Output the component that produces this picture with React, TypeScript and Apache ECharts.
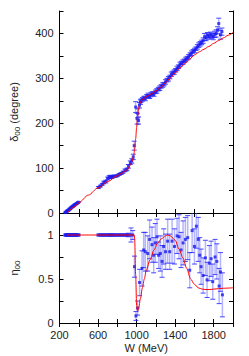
import React, { useEffect, useRef } from "react";
import * as echarts from "echarts";

// Phase shift delta_00 (degree): [W (MeV), value, error]
const deltaPoints: number[][] = [
  [262, 1, 1], [272, 3, 1], [282, 5, 1], [292, 6, 1], [302, 8, 1], [312, 10, 1], [322, 12, 1],
  [332, 14, 1], [342, 15, 1], [352, 17, 1], [362, 19, 1], [372, 20, 1], [384, 22, 1], [396, 24, 1],
  [605, 57, 2], [625, 60, 2], [645, 64, 2], [660, 68, 3], [680, 70, 3], [700, 77, 3], [715, 80, 3],
  [730, 81, 3], [745, 79, 2], [760, 82, 2], [780, 82, 2], [800, 83, 2], [820, 86, 2], [840, 88, 2],
  [860, 91, 2], [880, 95, 3], [900, 97, 3], [915, 104, 4], [935, 112, 4], [950, 116, 5], [965, 125, 6],
  [975, 150, 10], [990, 236, 12], [1005, 210, 12], [1012, 222, 10], [1020, 206, 8], [1030, 240, 6],
  [1040, 247, 5], [1045, 250, 4], [1060, 253, 4], [1075, 256, 4], [1090, 255, 5], [1105, 260, 4],
  [1120, 262, 5], [1135, 259, 4], [1150, 264, 5], [1165, 266, 4], [1180, 265, 5], [1195, 270, 4],
  [1210, 272, 5], [1225, 276, 4], [1240, 278, 5], [1255, 282, 4], [1270, 285, 5], [1285, 287, 4],
  [1300, 292, 5], [1315, 296, 4], [1330, 299, 5], [1345, 303, 4], [1360, 309, 5], [1375, 312, 4],
  [1390, 314, 5], [1405, 318, 4], [1420, 322, 5], [1435, 326, 4], [1450, 331, 5], [1465, 334, 4],
  [1480, 336, 5], [1495, 339, 4], [1510, 342, 5], [1525, 345, 4], [1540, 348, 5], [1555, 353, 4],
  [1570, 356, 5], [1585, 360, 4], [1600, 362, 5], [1615, 366, 4], [1630, 370, 5], [1645, 374, 5],
  [1660, 377, 5], [1675, 380, 5], [1690, 384, 6], [1705, 392, 8], [1720, 390, 6], [1735, 396, 6],
  [1750, 393, 6], [1765, 397, 6], [1780, 395, 6], [1795, 393, 7], [1810, 398, 7], [1825, 400, 8],
  [1840, 407, 8], [1852, 422, 12], [1870, 397, 10], [1885, 404, 8],
];

// Inelasticity eta_00: [W (MeV), value, error]
const etaPoints: number[][] = [
  [262, 1, 0.01], [272, 1, 0.01], [282, 1, 0.01], [292, 1, 0.01], [302, 1, 0.01], [312, 1, 0.01],
  [322, 1, 0.01], [332, 1, 0.01], [342, 1, 0.01], [352, 1, 0.01], [362, 1, 0.01], [372, 1, 0.01],
  [384, 1, 0.01], [396, 1, 0.01],
  [605, 1, 0.01], [625, 1, 0.01], [645, 1, 0.01], [660, 1, 0.01], [680, 1, 0.01], [700, 1, 0.01],
  [715, 1, 0.01], [730, 1, 0.01], [745, 1, 0.01], [760, 1, 0.01], [780, 1, 0.01], [800, 1, 0.01],
  [820, 1, 0.01], [840, 1, 0.01], [860, 1, 0.01], [880, 1, 0.01], [900, 1, 0.01], [915, 1, 0.02],
  [942, 1.0, 0.08], [960, 1.0, 0.05], [978, 0.64, 0.12],
  [993, 0.08, 0.05], [1010, 0.17, 0.08], [1031, 0.46, 0.15], [1056, 0.62, 0.2], [1073, 0.83, 0.2],
  [1090, 0.81, 0.22], [1115, 0.79, 0.2], [1135, 0.95, 0.22], [1160, 0.89, 0.2], [1177, 0.77, 0.2],
  [1194, 0.91, 0.22], [1212, 0.98, 0.2], [1229, 0.77, 0.15], [1246, 0.79, 0.2], [1264, 0.7, 0.18],
  [1281, 0.87, 0.2], [1300, 0.81, 0.2], [1322, 0.93, 0.25], [1343, 0.81, 0.2], [1368, 0.93, 0.25],
  [1393, 0.87, 0.2], [1420, 0.99, 0.2], [1440, 0.98, 0.25], [1461, 0.83, 0.2], [1482, 0.91, 0.25],
  [1506, 0.95, 0.25], [1530, 0.97, 0.25], [1551, 0.6, 0.2], [1576, 1.05, 0.25], [1600, 0.87, 0.2],
  [1620, 1.1, 0.25], [1640, 0.95, 0.25], [1655, 0.77, 0.2], [1669, 0.64, 0.2], [1690, 0.54, 0.2],
  [1714, 0.74, 0.2], [1731, 0.49, 0.2], [1755, 0.68, 0.2], [1773, 0.73, 0.2], [1790, 0.47, 0.2],
  [1814, 0.75, 0.2], [1832, 0.7, 0.2], [1856, 0.42, 0.2], [1870, 0.58, 0.22], [1890, 0.32, 0.25],
];

// Fit curves: [W, value]
const deltaFit: number[][] = [
  [278, 0], [350, 13], [400, 23], [500, 40], [600, 56], [700, 70], [800, 83], [850, 89], [900, 96],
  [935, 106], [955, 116], [970, 128], [980, 142], [990, 165], [1000, 190], [1010, 214], [1020, 232],
  [1035, 245], [1055, 252], [1100, 259], [1150, 265], [1200, 272], [1250, 280], [1300, 290],
  [1350, 301], [1400, 312], [1450, 323], [1500, 333], [1550, 343], [1600, 352], [1650, 359],
  [1700, 365], [1750, 371], [1800, 378], [1850, 384], [1900, 390], [1950, 396], [2000, 402],
];

const etaFit: number[][] = [
  [278, 1], [600, 1], [975, 1], [980, 0.95], [990, 0.55], [1000, 0.2], [1010, 0.13], [1020, 0.16],
  [1040, 0.28], [1060, 0.4], [1080, 0.5], [1100, 0.6], [1140, 0.72], [1180, 0.83], [1220, 0.91],
  [1260, 0.96], [1300, 0.99], [1320, 1.0], [1350, 0.99], [1400, 0.94], [1440, 0.84], [1480, 0.74],
  [1520, 0.62], [1560, 0.5], [1600, 0.44], [1640, 0.4], [1680, 0.385], [1720, 0.38], [1760, 0.38],
  [1800, 0.385], [1850, 0.39], [1900, 0.395], [2000, 0.4],
];

const FONT = "Liberation Sans, Arial, sans-serif";
const TXT = "#222";
const BAR = "rgba(90,90,255,0.45)";
const CAP = "rgba(40,40,255,0.85)";
const PT = "#1a1aee";

function errRender(params: any, api: any) {
  const x = api.value(0), y = api.value(1), e = api.value(2);
  const t = api.coord([x, y + e]);
  const b = api.coord([x, y - e]);
  const hw = 2.5;
  return {
    type: "group",
    children: [
      { type: "line", shape: { x1: t[0], y1: t[1], x2: b[0], y2: b[1] }, style: { stroke: BAR, lineWidth: 1.5 } },
      { type: "line", shape: { x1: t[0] - hw, y1: t[1], x2: t[0] + hw, y2: t[1] }, style: { stroke: CAP, lineWidth: 1 } },
      { type: "line", shape: { x1: b[0] - hw, y1: b[1], x2: b[0] + hw, y2: b[1] }, style: { stroke: CAP, lineWidth: 1 } },
    ],
  };
}

export default function App() {
  const ref = useRef<HTMLDivElement>(null);
  useEffect(() => {
    const chart = echarts.init(ref.current!, null, { renderer: "svg" });
    const line = { show: true, lineStyle: { color: "#000", width: 1 } };
    const tick = { show: true, inside: true, length: 4, lineStyle: { color: "#000", width: 1 } };
    const lbl = { color: TXT, fontSize: 11, fontFamily: FONT };
    const xBase = { type: "value", min: 200, max: 2000, interval: 200, splitLine: { show: false }, axisLine: line, axisTick: tick };
    chart.setOption({
      animation: false,
      grid: [
        { left: 59, top: 11, right: 16, height: 202 },
        { left: 59, top: 213, right: 16, height: 110 },
      ],
      xAxis: [
        { ...xBase, gridIndex: 0, position: "bottom", axisLabel: { show: false } },
        { ...xBase, gridIndex: 0, position: "top", axisLabel: { show: false } },
        {
          ...xBase, gridIndex: 1, position: "bottom",
          axisLabel: { ...lbl, margin: 6, formatter: (v: number) => ((v - 200) % 400 === 0 ? String(v) : "") },
          name: "W (MeV)", nameLocation: "middle", nameGap: 19,
          nameTextStyle: { color: TXT, fontSize: 11, fontFamily: FONT },
        },
        { ...xBase, gridIndex: 1, position: "top", axisLabel: { show: false } },
      ],
      yAxis: [
        {
          type: "value", gridIndex: 0, min: 0, max: 450, interval: 50, position: "left",
          splitLine: { show: false }, axisLine: line, axisTick: tick,
          axisLabel: { ...lbl, margin: 6, formatter: (v: number) => (v % 100 === 0 ? String(v) : "") },
          name: "{a|δ}{s|00}{a| (degree)}", nameLocation: "middle", nameGap: 38,
          nameTextStyle: {
            color: TXT, fontFamily: FONT,
            rich: {
              a: { fontSize: 11, color: TXT, fontFamily: FONT, lineHeight: 16, verticalAlign: "middle" },
              s: { fontSize: 8, color: TXT, fontFamily: FONT, lineHeight: 10, verticalAlign: "bottom" },
            },
          },
        },
        {
          type: "value", gridIndex: 0, min: 0, max: 450, interval: 50, position: "right",
          splitLine: { show: false }, axisLine: line, axisTick: tick, axisLabel: { show: false },
        },
        {
          type: "value", gridIndex: 1, min: 0, max: 1.25, interval: 0.25, position: "left",
          splitLine: { show: false }, axisLine: line, axisTick: tick,
          axisLabel: { ...lbl, margin: 6, formatter: (v: number) => (Math.abs(v * 2 - Math.round(v * 2)) < 1e-6 ? String(v) : "") },
          name: "{a|η}{s|00}", nameLocation: "middle", nameGap: 38,
          nameTextStyle: {
            color: TXT, fontFamily: FONT,
            rich: {
              a: { fontSize: 11, color: TXT, fontFamily: FONT, lineHeight: 16, verticalAlign: "middle" },
              s: { fontSize: 8, color: TXT, fontFamily: FONT, lineHeight: 10, verticalAlign: "bottom" },
            },
          },
        },
        {
          type: "value", gridIndex: 1, min: 0, max: 1.25, interval: 0.25, position: "right",
          splitLine: { show: false }, axisLine: line, axisTick: tick, axisLabel: { show: false },
        },
      ],
      series: [
        { type: "custom", xAxisIndex: 0, yAxisIndex: 0, data: deltaPoints, renderItem: errRender, clip: true, z: 2 },
        { type: "custom", xAxisIndex: 2, yAxisIndex: 2, data: etaPoints, renderItem: errRender, clip: true, z: 2 },
        { type: "scatter", xAxisIndex: 0, yAxisIndex: 0, data: deltaPoints.map((p) => [p[0], p[1]]), symbol: "rect", symbolSize: 3, itemStyle: { color: PT }, z: 3 },
        { type: "scatter", xAxisIndex: 2, yAxisIndex: 2, data: etaPoints.map((p) => [p[0], p[1]]), symbol: "rect", symbolSize: 3, itemStyle: { color: PT }, z: 3 },
        { type: "line", xAxisIndex: 0, yAxisIndex: 0, data: deltaFit, showSymbol: false, smooth: 0.3, smoothMonotone: "x", lineStyle: { color: "#ff0000", width: 1 }, z: 4 },
        { type: "line", xAxisIndex: 2, yAxisIndex: 2, data: etaFit, showSymbol: false, smooth: 0.3, smoothMonotone: "x", lineStyle: { color: "#ff0000", width: 1 }, z: 4 },
      ],
    });
    return () => chart.dispose();
  }, []);
  return <div ref={ref} style={{ position: "absolute", left: 0, top: 0, width: 249, height: 356 }} />;
}
